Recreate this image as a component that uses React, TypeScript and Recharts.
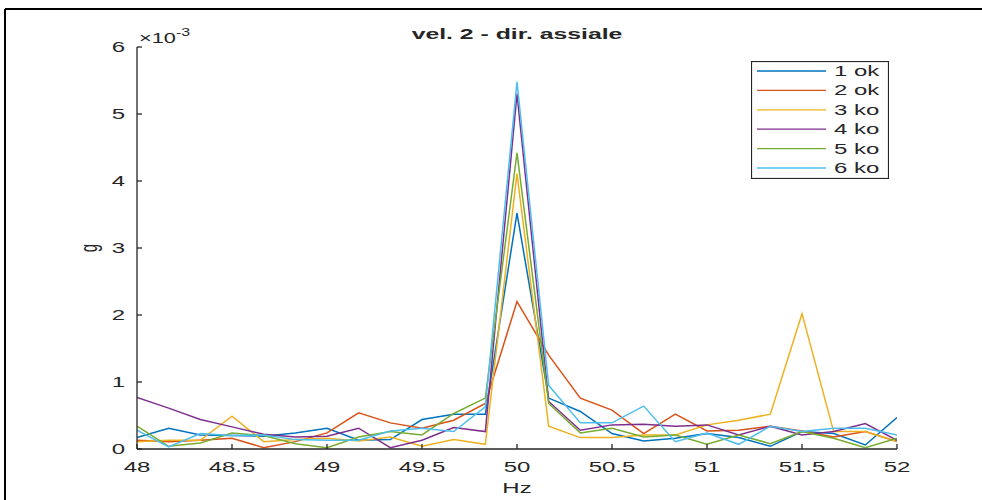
import React from "react"
import { Legend, Line, LineChart, XAxis, YAxis } from "recharts"

// frequency bins (Hz)
const hz = [
  48, 48.1667, 48.3333, 48.5, 48.6667, 48.8333, 49, 49.1667, 49.3333, 49.5, 49.6667, 49.8333, 50,
  50.1667, 50.3333, 50.5, 50.6667, 50.8333, 51, 51.1667, 51.3333, 51.5, 51.6667, 51.8333, 52,
]

// amplitudes in g x 10^-3
const s1ok = [0.17, 0.31, 0.21, 0.2, 0.19, 0.24, 0.31, 0.13, 0.14, 0.44, 0.52, 0.52, 3.52, 0.76, 0.56, 0.23, 0.12, 0.16, 0.23, 0.17, 0.04, 0.26, 0.23, 0.06, 0.47]
const s2ok = [0.13, 0.11, 0.13, 0.16, 0.02, 0.11, 0.24, 0.54, 0.39, 0.31, 0.43, 0.68, 2.2, 1.4, 0.76, 0.58, 0.23, 0.52, 0.27, 0.28, 0.34, 0.27, 0.18, 0.26, 0.11]
const s3ko = [0.11, 0.13, 0.13, 0.49, 0.11, 0.14, 0.16, 0.12, 0.18, 0.04, 0.14, 0.07, 4.11, 0.34, 0.17, 0.17, 0.21, 0.21, 0.36, 0.43, 0.52, 2.02, 0.26, 0.26, 0.11]
const s4ko = [0.77, 0.61, 0.44, 0.33, 0.22, 0.18, 0.19, 0.31, 0.02, 0.13, 0.32, 0.26, 5.3, 0.71, 0.28, 0.36, 0.37, 0.34, 0.36, 0.21, 0.34, 0.21, 0.26, 0.38, 0.13]
const s5ko = [0.34, 0.04, 0.09, 0.24, 0.2, 0.08, 0.02, 0.18, 0.26, 0.21, 0.53, 0.76, 4.42, 0.68, 0.24, 0.31, 0.18, 0.21, 0.07, 0.21, 0.08, 0.26, 0.16, 0.02, 0.16]
const s6ko = [0.28, 0.03, 0.23, 0.2, 0.21, 0.14, 0.13, 0.13, 0.27, 0.31, 0.26, 0.63, 5.48, 0.95, 0.39, 0.39, 0.64, 0.11, 0.24, 0.07, 0.34, 0.26, 0.31, 0.31, 0.21]

const xTicks = [48, 48.5, 49, 49.5, 50, 50.5, 51, 51.5, 52]
const yTicks = [0, 1, 2, 3, 4, 5, 6]

const series = [
  { key: "s1", name: "1 ok", values: s1ok, color: "#0072BD" },
  { key: "s2", name: "2 ok", values: s2ok, color: "#D95319" },
  { key: "s3", name: "3 ko", values: s3ko, color: "#EDB120" },
  { key: "s4", name: "4 ko", values: s4ko, color: "#7E2F8E" },
  { key: "s5", name: "5 ko", values: s5ko, color: "#77AC30" },
  { key: "s6", name: "6 ko", values: s6ko, color: "#4DBEEE" },
]

const data = hz.map((f, i) => {
  const row: Record<string, number> = { hz: f }
  series.forEach((s) => (row[s.key] = s.values[i]))
  return row
})

const AX = "#262626"
const FONT = "'Liberation Sans', Arial, sans-serif"
const SX = 1.6 // the source figure is stretched horizontally

function Txt({ x, y, anchor = "middle", size = 15, weight = 400, children }: any) {
  return (
    <text
      transform={`translate(${x},${y}) scale(${SX},1)`}
      textAnchor={anchor}
      fontFamily={FONT}
      fontSize={size}
      fontWeight={weight}
      fill={AX}
    >
      {children}
    </text>
  )
}

const BottomTick = ({ x, y, payload }: any) => (
  <g>
    <line x1={x} x2={x} y1={y} y2={y - 5} stroke={AX} strokeWidth={1.3} />
    <Txt x={x} y={y + 23}>{payload.value}</Txt>
  </g>
)
const TopTick = ({ x, y }: any) => <line x1={x} x2={x} y1={y} y2={y + 5} stroke={AX} strokeWidth={1.3} />
const LeftTick = ({ x, y, payload }: any) => (
  <g>
    <line x1={x} x2={x + 5} y1={y} y2={y} stroke={AX} strokeWidth={1.3} />
    <Txt x={x - 12} y={y + 5} anchor="end">{payload.value}</Txt>
  </g>
)
const RightTick = ({ x, y }: any) => <line x1={x} x2={x - 5} y1={y} y2={y} stroke={AX} strokeWidth={1.3} />

const LegendBox = () => (
  <svg width={138} height={118} style={{ display: "block" }}>
    <rect x={0.5} y={0.5} width={137} height={117} fill="#fff" stroke={AX} strokeWidth={1.2} />
    {series.map((s, i) => (
      <g key={s.key}>
        <line x1={6} x2={75} y1={10 + i * 19.4} y2={10 + i * 19.4} stroke={s.color} strokeWidth={1.3} />
        <Txt x={83} y={15 + i * 19.4} anchor="start">{s.name}</Txt>
      </g>
    ))}
  </svg>
)

export default function App() {
  return (
    <div style={{ position: "absolute", left: 0, top: 0, width: 982, height: 500, background: "#fff" }}>
      <LineChart width={982} height={500} data={data} margin={{ top: 47, right: 85, bottom: 21, left: 97 }}>
        <XAxis
          dataKey="hz"
          type="number"
          domain={[48, 52]}
          ticks={xTicks}
          interval={0}
          height={30}
          tickSize={0}
          tickMargin={0}
          tickLine={false}
          axisLine={{ stroke: AX, strokeWidth: 1.3 }}
          tick={<BottomTick />}
          allowDataOverflow
        />
        <XAxis
          xAxisId="top"
          orientation="top"
          dataKey="hz"
          type="number"
          domain={[48, 52]}
          ticks={xTicks}
          interval={0}
          height={0}
          tickSize={0}
          tickMargin={0}
          tickLine={false}
          axisLine={{ stroke: AX, strokeWidth: 1.3 }}
          tick={<TopTick />}
        />
        <YAxis
          domain={[0, 6]}
          ticks={yTicks}
          interval={0}
          width={40}
          tickSize={0}
          tickMargin={0}
          tickLine={false}
          axisLine={{ stroke: AX, strokeWidth: 1.3 }}
          tick={<LeftTick />}
          allowDataOverflow
        />
        <YAxis
          yAxisId="right"
          orientation="right"
          domain={[0, 6]}
          ticks={yTicks}
          interval={0}
          width={0}
          tickSize={0}
          tickMargin={0}
          tickLine={false}
          axisLine={{ stroke: AX, strokeWidth: 1.3 }}
          tick={<RightTick />}
        />
        {series.map((s) => (
          <Line
            key={s.key}
            dataKey={s.key}
            name={s.name}
            stroke={s.color}
            strokeWidth={1.5}
            dot={false}
            activeDot={false}
            type="linear"
            isAnimationActive={false}
          />
        ))}
        <Legend
          layout="vertical"
          align="center"
          verticalAlign="middle"
          content={<LegendBox />}
          wrapperStyle={{ left: 751, top: 61, width: 138, height: 118 }}
        />
      </LineChart>
      <svg width={982} height={500} style={{ position: "absolute", left: 0, top: 0, pointerEvents: "none" }}>
        <line x1={5} x2={982} y1={9} y2={9} stroke="#000" strokeWidth={2} />
        <line x1={5} x2={5} y1={9} y2={500} stroke="#000" strokeWidth={2} />
        <Txt x={517} y={39} weight={700} size={15.5}>vel. 2 - dir. assiale</Txt>
        <text transform={`translate(139,43) scale(1.45,1)`} fontFamily={FONT} fontSize={15} fill={AX}>
          ×10<tspan fontSize={11} dy={-7}>-3</tspan>
        </text>
        <Txt x={517} y={493}>Hz</Txt>
        <text
          transform={`translate(97,248) scale(${SX},1) rotate(-90)`}
          textAnchor="middle"
          fontFamily={FONT}
          fontSize={15}
          fill={AX}
        >
          g
        </text>
      </svg>
    </div>
  )
}
